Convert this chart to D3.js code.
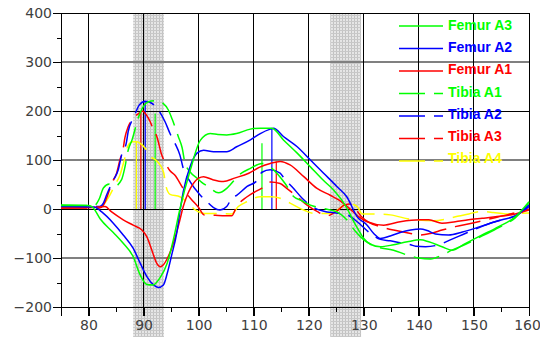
<!DOCTYPE html>
<html>
<head>
<meta charset="utf-8">
<script src="https://cdn.jsdelivr.net/npm/d3@7"></script>
<style>
  body { margin: 0; background: #fff; }
  svg { display: block; }
  .axis text { font-family: "DejaVu Sans", sans-serif; font-size: 14px; fill: #404040; }
  .axis line { stroke: #000; }
  .legend text { font-family: "Liberation Sans", Arial, sans-serif; font-weight: bold; font-size: 14px; }
</style>
</head>
<body>
<div id="chart"></div>
<script>
const F_WIDTH = 540;
const F_HEIGHT = 337;
const MARGINS = {left: 61, right: 11, top: 13, bottom: 30};

// tick values
const X_TICKS = [80, 90, 100, 110, 120, 130, 140, 150, 160];
const X_MINOR = [85, 95, 105, 115, 125, 135, 145, 155];
const Y_TICKS = [-200, -100, 0, 100, 200, 300, 400];
const Y_MINOR = [-150, -50, 50, 150, 250, 350];

// series names (legend order)
const SERIES = ["Femur A3", "Femur A2", "Femur A1", "Tibia A1", "Tibia A2", "Tibia A3", "Tibia A4"];

// [time, value]
const femurA3 = [[75,7],[80,7],[80.8,3],[82.1,-20],[84.5,-48],[86.3,-70],[88.1,-97],[89.4,-135],[90.6,-154],
  [91.7,-155],[93,-140],[94.3,-110],[95.4,-63],[96.6,0],[98.5,80],[100.3,140],[102.1,154],[103.5,152],[105.1,151],
  [106.9,154],[109.4,163],[111.2,165],[113.3,165],[115.4,141],[117.9,114],[120.3,86],[122.6,59],[124.5,39],[126,18],
  [127,0],[128,-22],[129,-42],[130,-60],[131.2,-72],[133,-77],[135.4,-73],[137.9,-67],[140.3,-63],[141.8,-67],
  [144.2,-77],[146,-84],[148.5,-70],[151.5,-53],[154.5,-36],[157.5,-16],[160,15]];

const femurA2 = [[75,5],[81,4],[82.4,-6],[84.5,-29],[86.3,-53],[88.1,-80],[89.4,-111],[90.6,-138],[91.8,-155],
  [92.7,-160],[93.6,-155],[94.3,-131],[95.1,-94],[96,-50],[96.6,-5],[97.2,35],[98.5,88],[99.7,114],[100.9,120],
  [102.7,117],[105.1,117],[106.9,127],[109.4,141],[111.2,154],[113,163],[113.6,165],[115.4,148],[117.9,127],
  [120.3,100],[122.7,73],[125.1,46],[126.9,25],[128.8,-16],[130.6,-33],[131.8,-50],[133,-60],[134.8,-55],
  [136.6,-48],[138.5,-43],[140.3,-41],[141.5,-44],[143,-51],[145.4,-53],[147.9,-47],[150.3,-39],[152.7,-30],
  [155.1,-22],[157.5,-14],[160,8]];

const femurA1 = [[75,2],[80.9,3],[83,5],[84.2,-6],[86.3,-22],[88.1,-33],[89.7,-43],[90.6,-57],[91.5,-84],
  [92.4,-111],[93,-118],[93.6,-114],[94.3,-101],[95.1,-80],[96,-48],[96.6,-22],[97.2,5],[98,30],[98.5,42],[100,63],
  [100.9,66],[102.5,60],[104.5,56],[106.5,63],[109.1,73],[111,85],[113,93],[114.8,97],[116.6,90],[119.1,66],
  [121.5,42],[123.9,28],[125.5,18],[127,5],[129.1,-16],[130.6,-26],[133.6,-33],[136.6,-26],[140.3,-22],
  [141.8,-22],[144.2,-29],[146.6,-26],[149,-22],[151.5,-19],[153.9,-16],[157.5,-10],[160,-2]];

const tibiaA1 = [[75,8],[81,7],[82,22],[82.7,43],[83.8,51],[84.7,46],[86,60],[86.6,85],[87.2,120],[87.9,141],
  [89.1,188],[90,210],[90.9,219],[92.4,221],[93.5,216],[94.5,202],[95.2,183],[96.3,148],[97,125],[97.5,95],
  [98.5,75],[99.7,63],[100.5,55],[101.8,45],[103.6,33],[105.1,42],[105.7,49],[107.5,71],[109.4,83],[111.5,93],
  [113.3,83],[115.7,52],[117.3,25],[118.5,18],[120.3,8],[122.7,1],[125.1,-6],[126.9,-22],[128.5,-46],[130,-63],
  [132,-76],[135.4,-84],[137.9,-94],[140,-100],[142.1,-102],[144.2,-94],[146,-84],[148.5,-72],[151.5,-55],
  [154.5,-38],[157.5,-18],[160,12]];

const tibiaA2 = [[75,6],[82,5],[82.7,12],[83.3,29],[84.5,59],[85.4,80],[86,110],[86.9,137],[87.2,158],[88.1,185],
  [88.5,195],[89.2,212],[90.3,220],[90.9,219],[92.7,202],[93.9,178],[94.8,154],[95.7,134],[96.6,110],[97.2,83],
  [98.5,55],[100,32],[101.5,15],[102.7,3],[103.9,-2],[105.1,5],[106,22],[106.9,28],[108.8,46],[110.6,58],
  [111.5,75],[113,80],[114.8,73],[115.7,60],[117,45],[118.8,22],[120.9,3],[123.3,-6],[125,-8],[127,-12],
  [128.8,-26],[131.2,-50],[133,-62],[134.8,-65],[136.6,-69],[138.5,-73],[139.4,-76],[141.2,-77],[143.6,-73],
  [145.7,-63],[148,-52],[150.3,-41],[152.7,-30],[155.1,-22],[157.5,-14],[160,5]];

const tibiaA3 = [[75,2],[82,2],[82.7,8],[83.6,32],[84.2,52],[85.1,73],[85.7,100],[86.3,124],[86.6,145],
  [87.2,168],[87.9,182],[89.4,197],[89.8,200],[90.5,192],[91.2,178],[91.8,162],[92.4,148],[93.3,110],[93.9,95],
  [94.8,78],[95.7,69],[97,45],[98.5,22],[100,3],[101,-12],[103,-13],[106,-14],[106.9,5],[108.8,25],[111.8,45],
  [113,55],[114.8,52],[116,42],[117.9,25],[119.7,8],[121.5,-5],[123.3,-14],[125,-5],[126.5,8],[127.5,10],
  [128.5,0],[129.5,-15],[131,-28],[133,-36],[135.4,-43],[138.5,-50],[140.3,-53],[142.1,-50],[144.2,-43],
  [146.6,-36],[150,-28],[153,-20],[156,-12],[160,0]];

const tibiaA4 = [[75,3],[82,3],[82.8,10],[83.9,29],[84.8,49],[85.7,69],[86.5,100],[87.2,130],[88,137],[88.7,137],
  [89.4,134],[90.3,124],[91.2,108],[92.4,98],[93.6,76],[94.1,45],[94.8,30],[96.6,25],[98.1,12],[99.4,-2],[101,-9],
  [104,-9],[106,-10],[107.2,5],[108.8,15],[111.2,25],[113.3,25],[114.8,22],[116.6,12],[119.1,-2],[120.9,-9],
  [123.9,-9],[125.5,0],[127,12],[128.8,5],[129.7,-10],[131.8,-10],[134.8,-12],[138.5,-21],[142.7,-24],[144.8,-21],
  [147,-15],[149.1,-10],[151.2,-5],[153.5,-7],[155.7,-10],[157.5,-9],[160,-8]];

// peak markers (vertical lines down to zero)
const MARK_SERIES = ["Tibia A4", "Tibia A3", "Tibia A2", "Tibia A1", "Femur A3", "Femur A2", "Femur A1"];
const MARK_X = [88.7, 89.5, 90.3, 92.1, 111.5, 113.3, 114.1];
const MARK_TOP = [137, 196, 220, 195, 134, 165, 97];

// shaded bands
const BAND_START = [88.1, 123.9];
const BAND_END = [93.7, 129.5];

const COLORS = {"Femur A3": "#00ff00", "Femur A2": "#0000ff", "Femur A1": "#ff0000",
                "Tibia A1": "#00ff00", "Tibia A2": "#0000ff", "Tibia A3": "#ff0000", "Tibia A4": "#ffff00"};
const DATA = {"Femur A3": femurA3, "Femur A2": femurA2, "Femur A1": femurA1,
              "Tibia A1": tibiaA1, "Tibia A2": tibiaA2, "Tibia A3": tibiaA3, "Tibia A4": tibiaA4};

const VIS_WIDTH = F_WIDTH - MARGINS.left - MARGINS.right;
const VIS_HEIGHT = F_HEIGHT - MARGINS.top - MARGINS.bottom;

const FRAME = d3.select("#chart")
  .append("svg")
    .attr("width", F_WIDTH)
    .attr("height", F_HEIGHT);

const X_SCALE = d3.scaleLinear().domain([75, 160]).range([MARGINS.left, MARGINS.left + VIS_WIDTH]);
const Y_SCALE = d3.scaleLinear().domain([-200, 400]).range([MARGINS.top + VIS_HEIGHT, MARGINS.top]);

// hatch pattern for shaded bands
const pat = FRAME.append("defs").append("pattern")
    .attr("id", "hatch")
    .attr("patternUnits", "userSpaceOnUse")
    .attr("width", 3).attr("height", 3);
pat.append("rect").attr("width", 3).attr("height", 3).attr("fill", "#e6e6e6");
pat.append("rect").attr("width", 1).attr("height", 3).attr("fill", "#c2c2c2");
pat.append("rect").attr("width", 3).attr("height", 1).attr("fill", "#c8c8c8");

FRAME.selectAll(".band")
  .data(BAND_START)
  .enter()
  .append("rect")
    .attr("x", (d) => X_SCALE(d))
    .attr("y", MARGINS.top)
    .attr("width", (d, i) => X_SCALE(BAND_END[i]) - X_SCALE(d))
    .attr("height", F_HEIGHT - MARGINS.top)
    .attr("fill", "url(#hatch)");

// horizontal grid
FRAME.selectAll(".hgrid")
  .data(Y_TICKS)
  .enter()
  .append("line")
    .attr("x1", X_SCALE(75)).attr("x2", X_SCALE(160))
    .attr("y1", (d) => Y_SCALE(d)).attr("y2", (d) => Y_SCALE(d))
    .attr("stroke", (d) => (Math.abs(d / 100) % 2 === 1 ? "#808080" : "#000"))
    .attr("stroke-width", (d) => (Math.abs(d / 100) % 2 === 1 ? 2 : 1))
    .attr("shape-rendering", "crispEdges");

// vertical grid (major ticks run through to below the axis)
FRAME.selectAll(".vgrid")
  .data([75].concat(X_TICKS))
  .enter()
  .append("line")
    .attr("x1", (d) => X_SCALE(d)).attr("x2", (d) => X_SCALE(d))
    .attr("y1", MARGINS.top).attr("y2", Y_SCALE(-200) + 9)
    .attr("stroke", "#000")
    .attr("shape-rendering", "crispEdges");

// y axis
FRAME.append("g")
    .attr("class", "axis")
    .attr("transform", "translate(" + MARGINS.left + ",0)")
    .call(d3.axisLeft(Y_SCALE).tickValues(Y_TICKS).tickSize(8).tickPadding(1))
    .call((g) => g.select(".domain").remove());
FRAME.append("g")
    .attr("class", "axis")
    .attr("transform", "translate(" + MARGINS.left + ",0)")
    .call(d3.axisLeft(Y_SCALE).tickValues(Y_MINOR).tickSize(4).tickFormat(""))
    .call((g) => g.select(".domain").remove());

// x axis
FRAME.append("g")
    .attr("class", "axis")
    .attr("transform", "translate(0," + Y_SCALE(-200) + ")")
    .call(d3.axisBottom(X_SCALE).tickValues(X_TICKS).tickSize(9).tickPadding(4))
    .call((g) => g.select(".domain").remove())
    .call((g) => g.selectAll(".tick text").filter((d) => d === 160).attr("dx", -2));
FRAME.append("g")
    .attr("class", "axis")
    .attr("transform", "translate(0," + Y_SCALE(-200) + ")")
    .call(d3.axisBottom(X_SCALE).tickValues(X_MINOR).tickSize(5).tickFormat(""))
    .call((g) => g.select(".domain").remove());
FRAME.selectAll(".axis .tick line").attr("shape-rendering", "crispEdges");

// peak markers
FRAME.selectAll(".marker")
  .data(MARK_X)
  .enter()
  .append("line")
    .attr("x1", (d) => X_SCALE(d)).attr("x2", (d) => X_SCALE(d))
    .attr("y1", (d, i) => Y_SCALE(MARK_TOP[i])).attr("y2", Y_SCALE(0))
    .attr("stroke", (d, i) => COLORS[MARK_SERIES[i]])
    .attr("stroke-width", 1.2);

// curves
const LINE = d3.line()
  .x((d) => X_SCALE(d[0]))
  .y((d) => Y_SCALE(d[1]))
  .curve(d3.curveMonotoneX);

FRAME.selectAll(".curve")
  .data(SERIES.slice().reverse())
  .enter()
  .append("path")
    .attr("d", (d) => LINE(DATA[d]))
    .attr("fill", "none")
    .attr("stroke", (d) => COLORS[d])
    .attr("stroke-width", 1.5)
    .attr("stroke-dasharray", (d) => (d.startsWith("Tibia") ? "26,9" : null));

// legend
const LEG = FRAME.append("g").attr("class", "legend");
SERIES.forEach((s, i) => {
  LEG.append("line")
      .attr("x1", 399).attr("x2", 443)
      .attr("y1", 26 + i * 22.5).attr("y2", 26 + i * 22.5)
      .attr("stroke", COLORS[s])
      .attr("stroke-width", 1.5)
      .attr("stroke-dasharray", s.startsWith("Tibia") ? "26,9" : null);
  LEG.append("text")
      .attr("x", 448)
      .attr("y", 25 + i * 22.2)
      .attr("dy", "0.36em")
      .attr("fill", COLORS[s])
      .text(s);
});
</script>
</body>
</html>
